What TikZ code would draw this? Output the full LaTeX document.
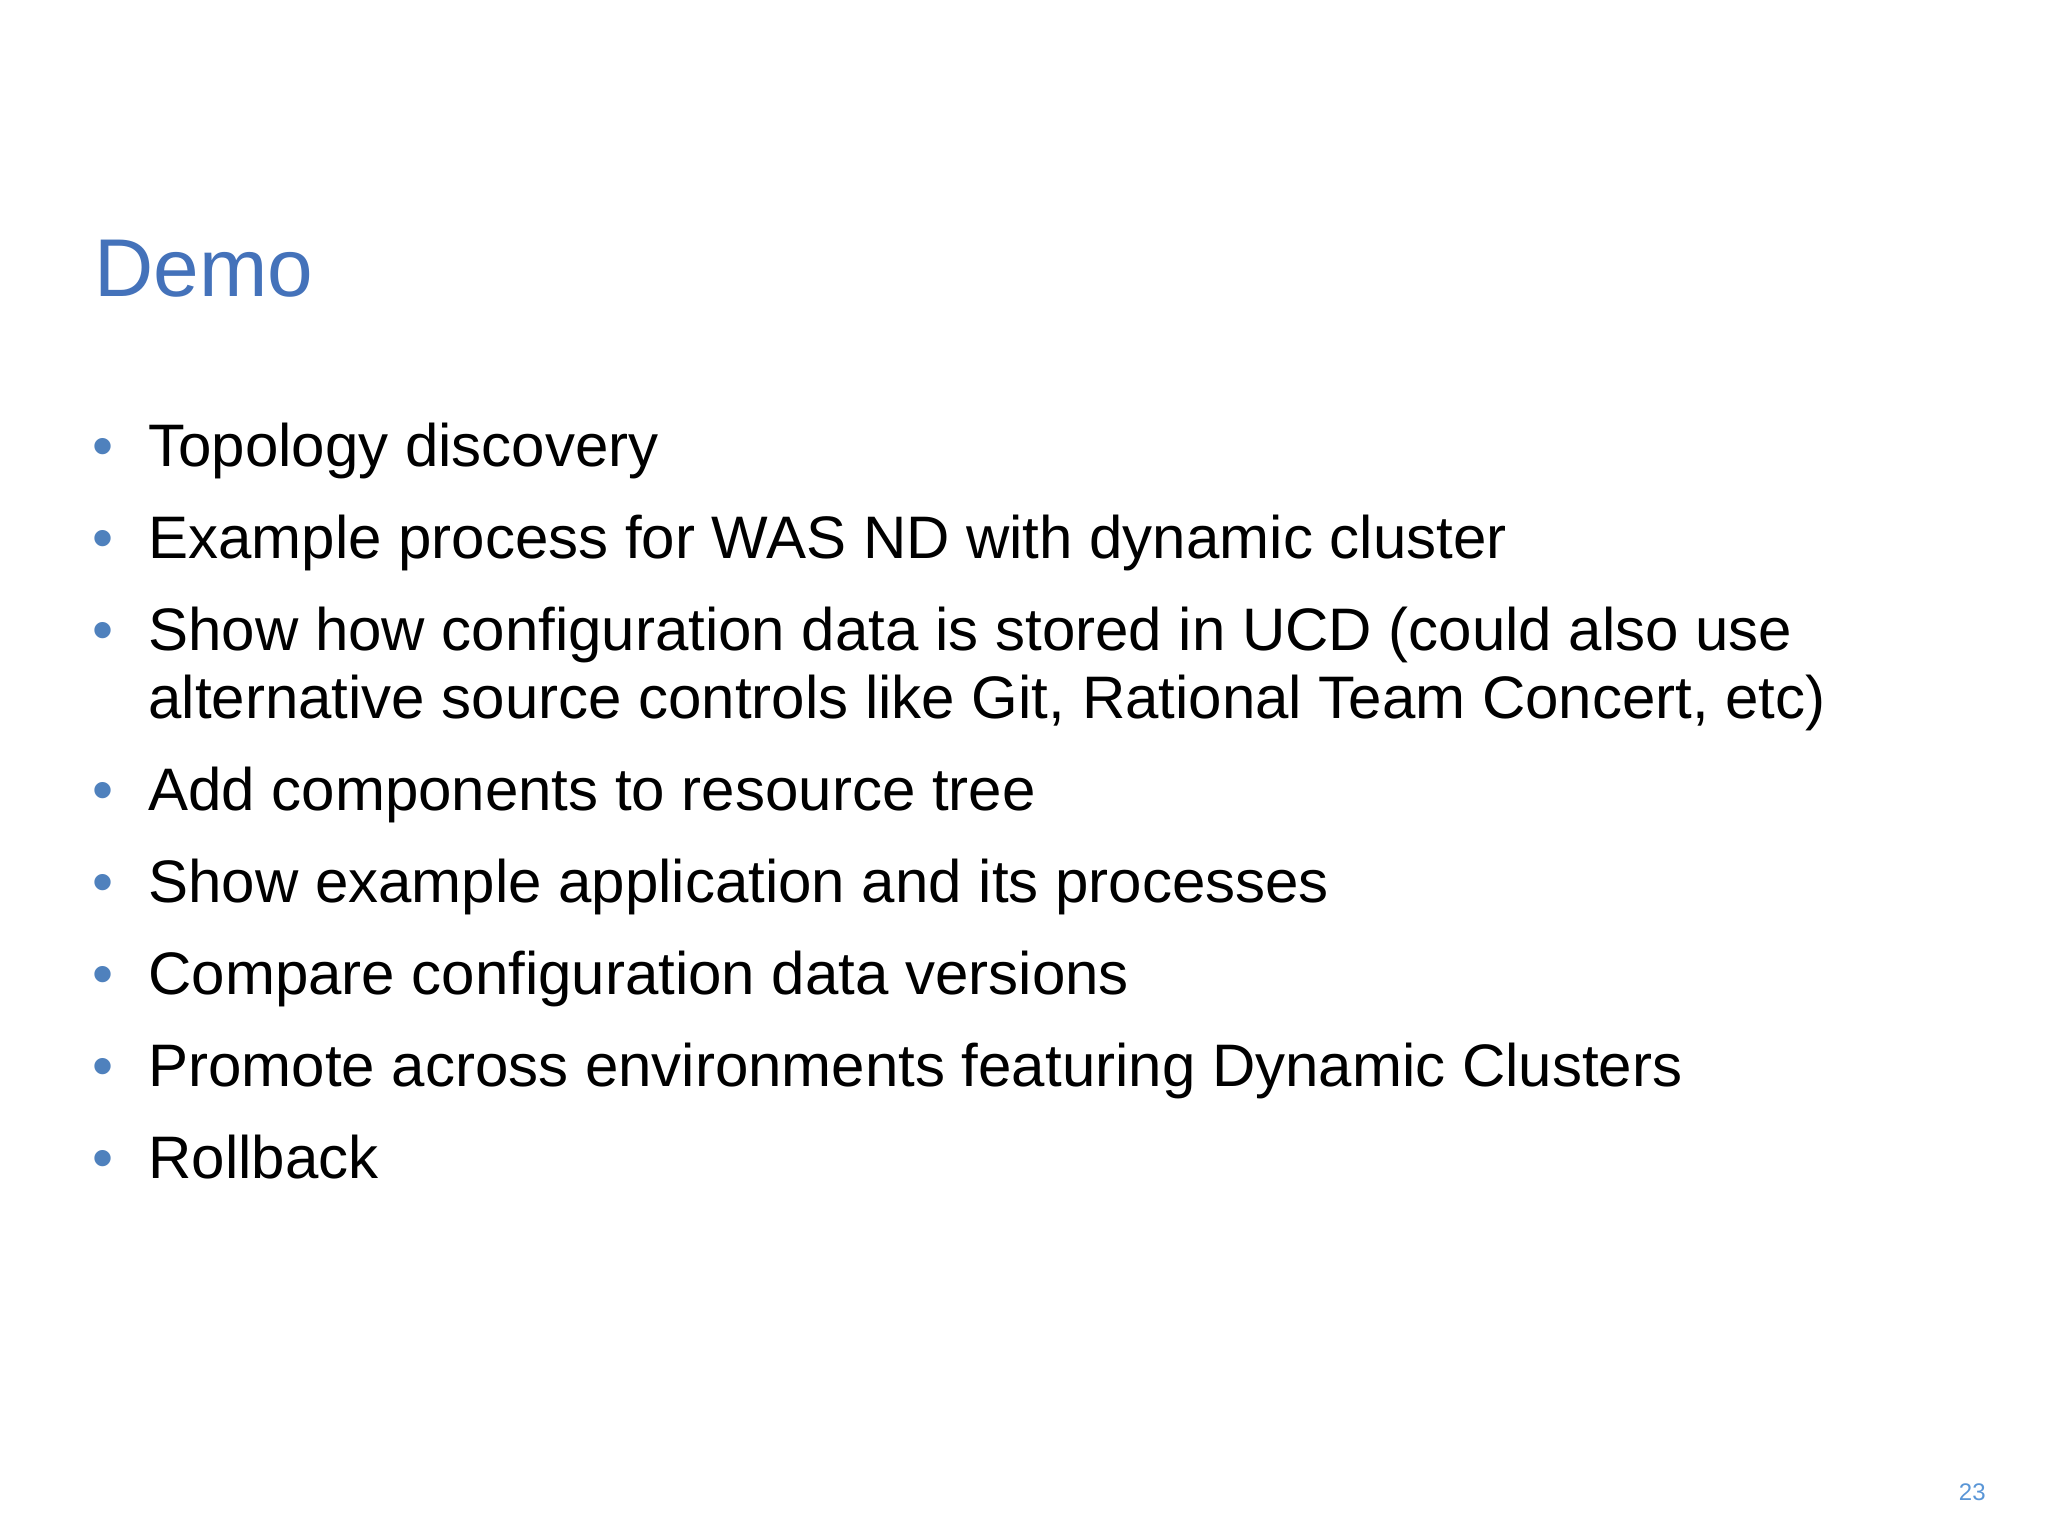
\documentclass[tikz,border=0pt]{standalone}
\usepackage{fontspec}
\setmainfont{Liberation Sans}
\definecolor{titleblue}{RGB}{68,114,186}
\definecolor{bulletblue}{RGB}{79,129,189}
\definecolor{numblue}{RGB}{90,150,215}
\begin{document}
\begin{tikzpicture}[x=1pt,y=1pt,
  txt/.style={anchor=base west,inner sep=0pt,font=\fontsize{30}{36}\selectfont},
  bul/.style={anchor=base west,inner sep=0pt,text=bulletblue,font=\fontsize{30}{36}\selectfont}]
\useasboundingbox[fill=white] (0,0) rectangle (1024,-768);
\node[anchor=base west,inner sep=0pt,text=titleblue,font=\fontsize{41}{48}\selectfont] (title) at (47,-148) {Demo};
\foreach \y/\t [count=\i] in {
 233/Topology discovery,
 279/Example process for WAS ND with dynamic cluster,
 325/{Show how configuration data is stored in UCD (could also use},
 405/Add components to resource tree,
 451/Show example application and its processes,
 497/Compare configuration data versions,
 543/Promote across environments featuring Dynamic Clusters,
 589/Rollback}{
 \node[bul] (b\i) at (46,-\y) {•};
 \node[txt] (t\i) at (74,-\y) {\t};
}
\node[txt] (t3b) at (74,-359) {alternative source controls like Git, Rational Team Concert, etc)};
\node[anchor=base east,inner sep=0pt,text=numblue,font=\fontsize{12}{14}\selectfont] (num) at (993,-750) {23};
\end{tikzpicture}
\end{document}
